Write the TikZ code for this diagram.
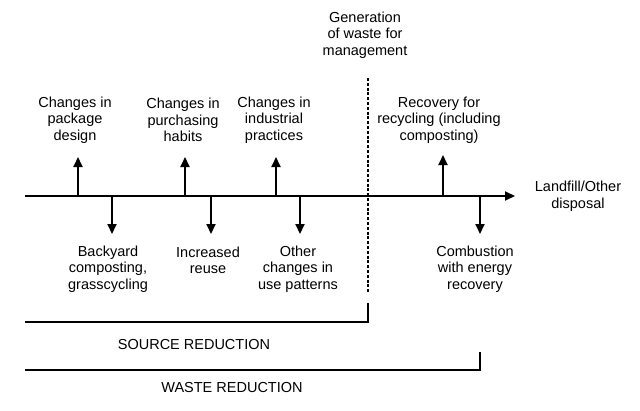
\documentclass[tikz,border=0pt]{standalone}
\usepackage{fontspec}
\setmainfont{Liberation Sans}
\usetikzlibrary{arrows.meta}
\begin{document}
\begin{tikzpicture}[x=1pt,y=-1pt,
  lbl/.style={align=center,inner sep=0pt,font=\fontsize{14.5}{16.6}\selectfont},
  mainaxis/.style={line width=2pt,-{Triangle[length=10pt,width=9pt]}},
  branch/.style={line width=2pt,-{Triangle[length=10pt,width=9pt]}},
  divider/.style={line width=1.5pt,dash pattern=on 3pt off 1.8pt},
  bracket/.style={line width=2pt}]
\useasboundingbox (0,0) rectangle (640,410);

% main axis
\coordinate (axstart) at (25,196);
\coordinate (axend) at (515,196);
\draw[mainaxis] (axstart) -- (axend);
\node[lbl] (landfill) at (578,196) {Landfill/Other\\disposal};

% upward branches
\node[lbl] (pkg) at (75,120) {Changes in\\package\\design};
\node[lbl] (purch) at (183,120) {Changes in\\purchasing\\habits};
\node[lbl] (indus) at (274,120) {Changes in\\industrial\\practices};
\node[lbl] (recov) at (439,120) {Recovery for\\recycling (including\\composting)};
\coordinate (pkgb) at (78,196);   \coordinate (pkgt) at (78,157);
\coordinate (purb) at (185,196);  \coordinate (purt) at (185,157);
\coordinate (indb) at (276,196);  \coordinate (indt) at (276,157);
\coordinate (recb) at (443,196);  \coordinate (rect) at (443,155);
\draw[branch] (pkgb) -- (pkgt);
\draw[branch] (purb) -- (purt);
\draw[branch] (indb) -- (indt);
\draw[branch] (recb) -- (rect);

% downward branches
\node[lbl] (back) at (108,269) {Backyard\\composting,\\grasscycling};
\node[lbl] (reuse) at (208,260.5) {Increased\\reuse};
\node[lbl] (other) at (298,269) {Other\\changes in\\use patterns};
\node[lbl] (comb) at (475,269) {Combustion\\with energy\\recovery};
\coordinate (bakb) at (112,196);  \coordinate (bakt) at (112,234);
\coordinate (reub) at (211,196);  \coordinate (reut) at (211,234);
\coordinate (othb) at (300,196);  \coordinate (otht) at (300,234);
\coordinate (comb1) at (480,196); \coordinate (comt) at (480,234);
\draw[branch] (bakb) -- (bakt);
\draw[branch] (reub) -- (reut);
\draw[branch] (othb) -- (otht);
\draw[branch] (comb1) -- (comt);

% generation divider
\node[lbl] (gen) at (365,35) {Generation\\of waste for\\management};
\coordinate (divtop) at (368,78);
\coordinate (divbot) at (368,293);
\draw[divider] (divtop) -- (divbot);

% brackets
\coordinate (srl) at (25,322);
\coordinate (src) at (368,322);
\coordinate (srt) at (368,303);
\draw[bracket] (srl) -- (src) -- (srt);
\node[lbl] (srtext) at (194,345) {SOURCE REDUCTION};

\coordinate (wrl) at (25,370);
\coordinate (wrc) at (480,370);
\coordinate (wrt) at (480,352);
\draw[bracket] (wrl) -- (wrc) -- (wrt);
\node[lbl] (wrtext) at (232,388) {WASTE REDUCTION};
\end{tikzpicture}
\end{document}
